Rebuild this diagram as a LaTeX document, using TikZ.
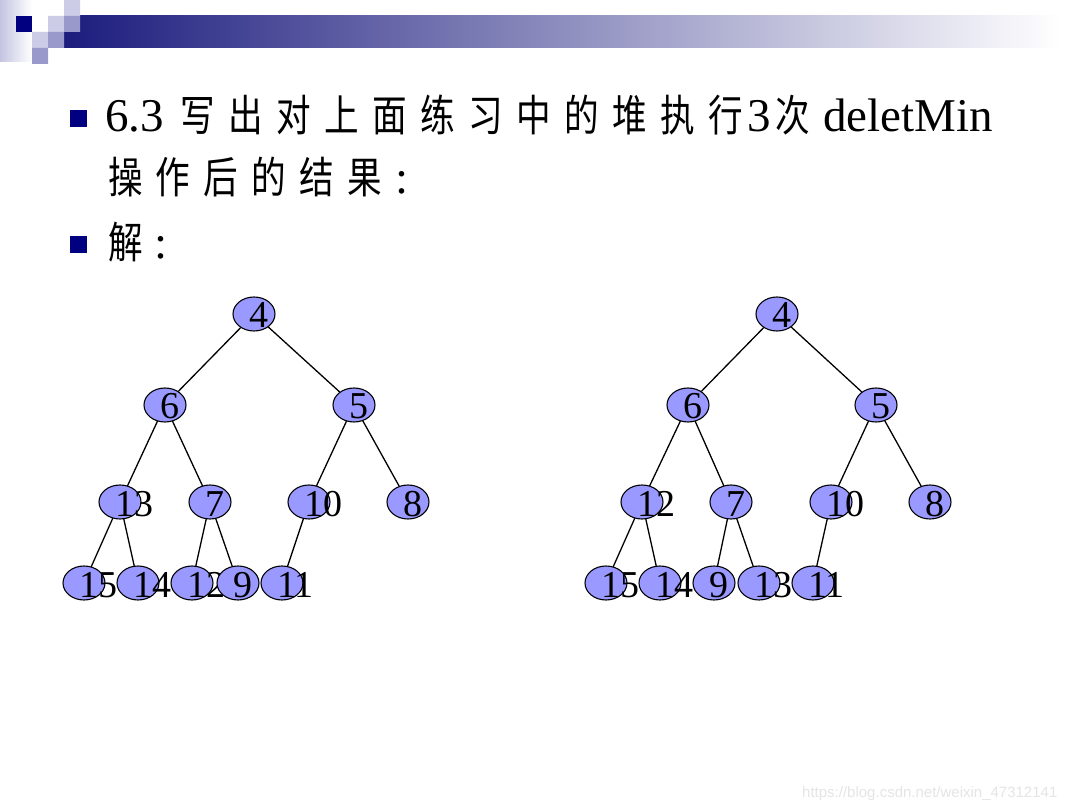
\documentclass[tikz,border=0pt]{standalone}
\usepackage{fontspec}
\setmainfont{Liberation Serif}
\newfontfamily\cjk[Scale=0.92,FakeStretch=0.8,LetterSpace=31]{Noto Sans CJK SC}
\newfontfamily\markfont{Liberation Sans}
\usetikzlibrary{shapes.geometric}
\definecolor{SlideNavy}{HTML}{000080}
\definecolor{SlideBand}{HTML}{1C1C7E}
\definecolor{SlideLight}{HTML}{CCCCE6}
\definecolor{SlideMid}{HTML}{9999CC}
\definecolor{SlideStrip}{HTML}{C4C4E2}
\definecolor{HeapFill}{HTML}{9999FF}
\definecolor{MarkGray}{gray}{0.9}
\tikzset{
    slide/page/.style={
        x=1pt, y=-1pt,
        line cap=round,
        line join=round
    },
    slide/text/.style={
        anchor=base west, inner sep=0pt, outer sep=0pt,
        font=\fontsize{47}{56}\selectfont
    },
    slide/bullet/.style={
        rectangle, fill=SlideNavy, draw=none,
        minimum size=17.5pt, inner sep=0pt
    },
    slide/mark/.style={
        anchor=base west, inner sep=0pt, text=MarkGray,
        font=\markfont\fontsize{15}{18}\selectfont
    },
    heap/key/.style={
        ellipse, fill=HeapFill, draw=black, line width=1.1pt,
        minimum width=42pt, minimum height=34pt, inner sep=0pt
    },
    heap/num/.style={
        anchor=base west, inner sep=0pt,
        font=\fontsize{38}{42}\selectfont
    },
    heap/edge/.style={draw=black, line width=1.3pt}
}

\begin{document}
\begin{tikzpicture}[slide/page]
    \useasboundingbox (0,0) rectangle (1080,810);
    \fill[white] (0,0) rectangle (1080,810);
    % title band and tiles
    \shade[left color=SlideStrip, right color=white] (0,0) rectangle (32,62);
    \shade[left color=SlideBand, right color=white] (64,16) rectangle (1060,48);
    \fill[SlideNavy] (16,16) rectangle (32,32);
    \fill[SlideLight] (48,16) rectangle (64,32)
                      (64,0) rectangle (80,16)
                      (32,32) rectangle (48,48);
    \fill[SlideMid] (64,16) rectangle (80,32)
                    (48,32) rectangle (64,48)
                    (32,48) rectangle (48,64);
    % text
    \node[slide/bullet] (b1) at (78.5,118.5) {};
    \node[slide/text] (line1) at (105,132)
        {6.3 \kern5pt{\cjk 写出对上面练习中的堆执行}\kern4pt 3\kern5pt{\cjk 次}\kern13pt deletMin};
    \node[slide/text] (line2) at (108,194) {{\cjk 操作后的结果}\kern13pt:};
    \node[slide/bullet] (b2) at (78.5,244.5) {};
    \node[slide/text] (line3) at (108,259) {{\cjk 解}\kern12pt:};
    % heaps
    \def\HeapKey#1#2#3{
        \node[heap/key] (#1) at (#2) {};
        \node[heap/num] (#1t) at ([xshift=-5pt, yshift=-14pt]#1.center) {#3};
    }
    \HeapKey{L4}{254,314}{4}
    \HeapKey{L6}{165,405}{6}
    \HeapKey{L5}{354,405}{5}
    \HeapKey{L13}{120,502}{13}
    \HeapKey{L7}{210,502}{7}
    \HeapKey{L10}{309,502}{10}
    \HeapKey{L8}{408,502}{8}
    \HeapKey{L15}{84,583}{15}
    \HeapKey{L14}{138,583}{14}
    \HeapKey{L12}{192,583}{12}
    \HeapKey{L9}{238,583}{9}
    \HeapKey{L11}{282,583}{11}
    \draw[heap/edge] (L4) -- (L6) (L4) -- (L5)
        (L6) -- (L13) (L6) -- (L7) (L5) -- (L10) (L5) -- (L8)
        (L13) -- (L15) (L13) -- (L14) (L7) -- (L12) (L7) -- (L9)
        (L10) -- (L11);
    \HeapKey{R4}{777,314}{4}
    \HeapKey{R6}{688,405}{6}
    \HeapKey{R5}{876,405}{5}
    \HeapKey{R12}{642,502}{12}
    \HeapKey{R7}{731,502}{7}
    \HeapKey{R10}{831,502}{10}
    \HeapKey{R8}{930,502}{8}
    \HeapKey{R15}{606,583}{15}
    \HeapKey{R14}{660,583}{14}
    \HeapKey{R9}{714,583}{9}
    \HeapKey{R13}{759,583}{13}
    \HeapKey{R11}{813,583}{11}
    \draw[heap/edge] (R4) -- (R6) (R4) -- (R5)
        (R6) -- (R12) (R6) -- (R7) (R5) -- (R10) (R5) -- (R8)
        (R12) -- (R15) (R12) -- (R14) (R7) -- (R9) (R7) -- (R13)
        (R10) -- (R11);
    \node[slide/mark] (mark) at (802,797) {https://blog.csdn.net/weixin\_47312141};
\end{tikzpicture}
\end{document}
